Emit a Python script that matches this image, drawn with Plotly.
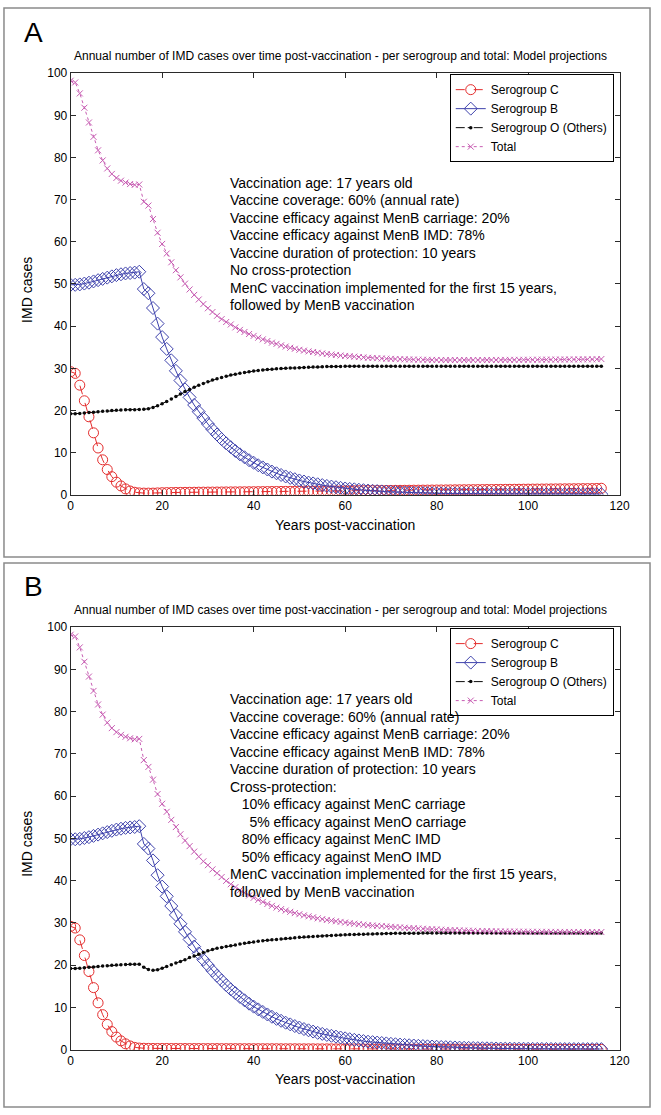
import plotly.graph_objects as go

years = list(range(0, 117))

# ---------------- Panel A data ----------------
sero_c_a = [29.2, 28.8, 26.0, 22.3, 18.5, 14.7, 11.1, 8.3, 6.0, 4.3,
            3.0, 2.1, 1.4, 0.9, 0.6, 0.45, 0.4, 0.4, 0.4, 0.45,
            0.5, 0.52, 0.54, 0.56, 0.57, 0.58, 0.6, 0.61, 0.62, 0.63,
            0.64, 0.65, 0.66, 0.67, 0.68, 0.69, 0.7, 0.71, 0.72, 0.73,
            0.74, 0.75, 0.76, 0.77, 0.78, 0.79, 0.8, 0.81, 0.82, 0.83,
            0.84, 0.85, 0.86, 0.87, 0.88, 0.89, 0.9, 0.91, 0.92, 0.93,
            0.94, 0.95, 0.96, 0.97, 0.98, 0.99, 1.0, 1.01, 1.02, 1.03,
            1.04, 1.05, 1.06, 1.07, 1.08, 1.09, 1.1, 1.11, 1.12, 1.13,
            1.14, 1.15, 1.16, 1.17, 1.18, 1.19, 1.2, 1.21, 1.22, 1.23,
            1.24, 1.25, 1.26, 1.27, 1.28, 1.29, 1.3, 1.31, 1.32, 1.33,
            1.34, 1.35, 1.36, 1.37, 1.38, 1.39, 1.4, 1.41, 1.42, 1.43,
            1.44, 1.45, 1.46, 1.47, 1.48, 1.5, 1.55]
sero_b_a = [49.8, 49.8, 49.9, 50.1, 50.3, 50.6, 50.9, 51.2, 51.5, 51.8,
            52.1, 52.3, 52.5, 52.6, 52.7, 52.9, 48.8, 47.8, 44.3, 40.6,
            37.4, 34.6, 31.9, 29.4, 27.1, 25.0, 23.1, 21.3, 19.7, 18.2,
            16.8, 15.5, 14.3, 13.2, 12.2, 11.3, 10.4, 9.6, 8.9, 8.2,
            7.6, 7.0, 6.5, 6.0, 5.5, 5.1, 4.7, 4.35, 4.0, 3.7,
            3.4, 3.15, 2.9, 2.7, 2.5, 2.3, 2.1, 1.95, 1.8, 1.65,
            1.5, 1.4, 1.3, 1.2, 1.1, 1.0, 0.95, 0.88, 0.81, 0.75,
            0.7, 0.65, 0.6, 0.56, 0.52, 0.48, 0.45, 0.42, 0.39, 0.36,
            0.34, 0.32, 0.3, 0.29, 0.28, 0.27, 0.26, 0.25, 0.24, 0.23,
            0.22, 0.22, 0.21, 0.21, 0.2, 0.2, 0.2, 0.19, 0.19, 0.19,
            0.18, 0.18, 0.18, 0.18, 0.17, 0.17, 0.17, 0.17, 0.17, 0.16,
            0.16, 0.16, 0.16, 0.16, 0.15, 0.15, 0.15]
sero_o_a = [19.2, 19.2, 19.3, 19.4, 19.5, 19.6, 19.7, 19.8, 19.9, 20.0,
            20.05, 20.1, 20.15, 20.2, 20.2, 20.25, 20.3, 20.4, 20.7, 21.1,
            21.6, 22.1, 22.7, 23.3, 23.9, 24.5, 25.0, 25.5, 26.0, 26.4,
            26.8, 27.2, 27.5, 27.8, 28.1, 28.4, 28.6, 28.8, 29.0, 29.2,
            29.35, 29.5, 29.6, 29.7, 29.8, 29.9, 29.95, 30.0, 30.05, 30.1,
            30.15, 30.2, 30.25, 30.3, 30.3, 30.35, 30.4, 30.4, 30.45, 30.45,
            30.5, 30.5, 30.5, 30.5, 30.5, 30.5, 30.5, 30.5, 30.5, 30.5,
            30.5, 30.5, 30.5, 30.5, 30.5, 30.5, 30.5, 30.5, 30.5, 30.5,
            30.5, 30.5, 30.5, 30.5, 30.5, 30.5, 30.5, 30.5, 30.5, 30.5,
            30.5, 30.5, 30.5, 30.5, 30.5, 30.5, 30.5, 30.5, 30.5, 30.5,
            30.5, 30.5, 30.5, 30.5, 30.5, 30.5, 30.5, 30.5, 30.5, 30.5,
            30.5, 30.5, 30.5, 30.5, 30.5, 30.5, 30.5]
total_a = [98.2, 97.8, 95.2, 91.8, 88.3, 84.9, 81.7, 79.3, 77.4, 76.1,
           75.15, 74.5, 74.05, 73.7, 73.5, 73.6, 69.5, 68.6, 65.4, 62.15,
           59.5, 57.22, 55.14, 53.26, 51.57, 50.08, 48.7, 47.41, 46.32, 45.23,
           44.24, 43.35, 42.46, 41.67, 40.98, 40.39, 39.7, 39.11, 38.62, 38.13,
           37.69, 37.25, 36.86, 36.47, 36.08, 35.79, 35.45, 35.16, 34.87, 34.63,
           34.39, 34.2, 34.01, 33.87, 33.68, 33.54, 33.4, 33.26, 33.17, 33.03,
           32.94, 32.85, 32.76, 32.67, 32.58, 32.49, 32.45, 32.39, 32.33, 32.28,
           32.24, 32.2, 32.16, 32.13, 32.1, 32.07, 32.05, 32.03, 32.01, 31.99,
           31.98, 31.97, 31.96, 31.96, 31.96, 31.96, 31.96, 31.96, 31.96, 31.96,
           31.96, 31.97, 31.97, 31.98, 31.98, 31.99, 32.0, 32.0, 32.01, 32.02,
           32.02, 32.03, 32.04, 32.05, 32.05, 32.06, 32.07, 32.08, 32.09, 32.09,
           32.1, 32.11, 32.12, 32.13, 32.13, 32.15, 32.2]

# ---------------- Panel B data ----------------
sero_c_b = [29.2, 28.8, 26.0, 22.3, 18.5, 14.7, 11.1, 8.3, 6.0, 4.3,
            3.0, 2.1, 1.4, 0.9, 0.55, 0.4, 0.35, 0.32, 0.3, 0.3,
            0.3, 0.3, 0.29, 0.29, 0.29, 0.28, 0.28, 0.28, 0.28, 0.27,
            0.27, 0.27, 0.27, 0.26, 0.26, 0.26, 0.26, 0.25, 0.25, 0.25,
            0.25, 0.25, 0.24, 0.24, 0.24, 0.24, 0.23, 0.23, 0.23, 0.23,
            0.22, 0.22, 0.22, 0.22, 0.21, 0.21, 0.21, 0.21, 0.2, 0.2,
            0.2, 0.2, 0.19, 0.19, 0.19, 0.19, 0.18, 0.18, 0.18, 0.18,
            0.17, 0.17, 0.17, 0.17, 0.16, 0.16, 0.16, 0.16, 0.15, 0.15,
            0.15, 0.15, 0.14, 0.14, 0.14, 0.14, 0.13, 0.13, 0.13, 0.13,
            0.12, 0.12, 0.12, 0.12, 0.11, 0.11, 0.11, 0.11, 0.1, 0.1,
            0.1, 0.1, 0.1, 0.1, 0.1, 0.1, 0.1, 0.1, 0.1, 0.1,
            0.1, 0.1, 0.1, 0.1, 0.1, 0.1, 0.1]
sero_b_b = [49.8, 49.8, 49.9, 50.1, 50.3, 50.6, 50.9, 51.2, 51.5, 51.8,
            52.1, 52.3, 52.5, 52.6, 52.7, 52.9, 48.7, 47.6, 44.8, 41.3,
            38.6, 36.3, 34.0, 31.9, 29.8, 27.9, 26.1, 24.4, 22.8, 21.3,
            20.0, 18.7, 17.5, 16.4, 15.3, 14.3, 13.4, 12.5, 11.7, 10.9,
            10.2, 9.55, 8.95, 8.35, 7.8, 7.3, 6.85, 6.4, 6.0, 5.6,
            5.25, 4.9, 4.6, 4.3, 4.0, 3.75, 3.5, 3.3, 3.1, 2.9,
            2.7, 2.5, 2.35, 2.2, 2.05, 1.9, 1.8, 1.7, 1.6, 1.5,
            1.4, 1.3, 1.22, 1.14, 1.06, 1.0, 0.93, 0.87, 0.81, 0.76,
            0.71, 0.66, 0.62, 0.58, 0.54, 0.5, 0.47, 0.44, 0.41, 0.38,
            0.36, 0.34, 0.32, 0.3, 0.28, 0.27, 0.26, 0.25, 0.24, 0.23,
            0.22, 0.21, 0.2, 0.2, 0.19, 0.19, 0.18, 0.18, 0.17, 0.17,
            0.17, 0.16, 0.16, 0.16, 0.15, 0.15, 0.15]
sero_o_b = [19.2, 19.2, 19.3, 19.4, 19.5, 19.6, 19.7, 19.8, 19.9, 20.0,
            20.05, 20.1, 20.15, 20.2, 20.2, 20.25, 19.5, 19.0, 18.8, 18.9,
            19.3, 19.7, 20.1, 20.5, 20.9, 21.3, 21.8, 22.2, 22.6, 23.0,
            23.4, 23.7, 24.0, 24.2, 24.4, 24.6, 24.8, 25.0, 25.2, 25.35,
            25.5, 25.65, 25.8, 25.9, 26.0, 26.1, 26.2, 26.3, 26.4, 26.5,
            26.6, 26.68, 26.75, 26.82, 26.88, 26.94, 27.0, 27.05, 27.1, 27.15,
            27.2, 27.24, 27.28, 27.32, 27.35, 27.38, 27.41, 27.44, 27.47, 27.5,
            27.52, 27.54, 27.55, 27.56, 27.57, 27.58, 27.59, 27.6, 27.6, 27.6,
            27.6, 27.6, 27.6, 27.6, 27.6, 27.6, 27.6, 27.6, 27.6, 27.6,
            27.6, 27.6, 27.6, 27.6, 27.6, 27.6, 27.6, 27.6, 27.6, 27.6,
            27.6, 27.6, 27.6, 27.6, 27.6, 27.6, 27.6, 27.6, 27.6, 27.6,
            27.6, 27.6, 27.6, 27.6, 27.6, 27.6, 27.6]
total_b = [98.2, 97.8, 95.2, 91.8, 88.3, 84.9, 81.7, 79.3, 77.4, 76.1,
           75.15, 74.5, 74.05, 73.7, 73.45, 73.55, 68.55, 66.92, 63.9, 60.5,
           58.2, 56.3, 54.39, 52.69, 50.99, 49.48, 48.18, 46.88, 45.68, 44.57,
           43.67, 42.67, 41.77, 40.86, 39.96, 39.16, 38.46, 37.75, 37.15, 36.5,
           35.95, 35.45, 34.99, 34.49, 34.04, 33.64, 33.28, 32.93, 32.63, 32.33,
           32.07, 31.8, 31.57, 31.34, 31.09, 30.9, 30.71, 30.56, 30.4, 30.25,
           30.1, 29.94, 29.82, 29.71, 29.59, 29.47, 29.39, 29.32, 29.25, 29.18,
           29.09, 29.01, 28.94, 28.87, 28.79, 28.74, 28.68, 28.63, 28.56, 28.51,
           28.46, 28.41, 28.36, 28.32, 28.28, 28.24, 28.2, 28.17, 28.14, 28.11,
           28.08, 28.06, 28.04, 28.02, 27.99, 27.98, 27.97, 27.96, 27.94, 27.93,
           27.92, 27.91, 27.9, 27.9, 27.89, 27.89, 27.88, 27.88, 27.87, 27.87,
           27.87, 27.86, 27.86, 27.86, 27.85, 27.85, 27.85]

series_names = ["Serogroup C", "Serogroup B", "Serogroup O (Others)", "Total"]
x_ticks = [0, 20, 40, 60, 80, 100, 120]
y_ticks = [0, 10, 20, 30, 40, 50, 60, 70, 80, 90, 100]

chart_title = "Annual number of IMD cases over time post-vaccination - per serogroup and total: Model projections"
x_title = "Years post-vaccination"
y_title = "IMD cases"
panel_letters = ["A", "B"]

notes_a = ["Vaccination age: 17 years old",
           "Vaccine coverage: 60% (annual rate)",
           "Vaccine efficacy against MenB carriage: 20%",
           "Vaccine efficacy against MenB IMD: 78%",
           "Vaccine duration of protection: 10 years",
           "No cross-protection",
           "MenC vaccination implemented for the first 15 years,",
           "followed by MenB vaccination"]
notes_b = ["Vaccination age: 17 years old",
           "Vaccine coverage: 60% (annual rate)",
           "Vaccine efficacy against MenB carriage: 20%",
           "Vaccine efficacy against MenB IMD: 78%",
           "Vaccine duration of protection: 10 years",
           "Cross-protection:",
           "\u00a0\u00a0\u00a010% efficacy against MenC carriage",
           "\u00a0\u00a0\u00a0\u00a0\u00a05% efficacy against MenO carriage",
           "\u00a0\u00a0\u00a080% efficacy against MenC IMD",
           "\u00a0\u00a0\u00a050% efficacy against MenO IMD",
           "MenC vaccination implemented for the first 15 years,",
           "followed by MenB vaccination"]

# ---------------- Layout geometry (pixels) ----------------
W, H = 661, 1115
PX0, PX1 = 69, 629
PANELS = [dict(top=67, bot=494, box=(1, 557)),
          dict(top=628, bot=1056, box=(563, 1114))]

def fx(px):
    return px / W

def fy(py):
    return 1 - py / H

RED = "rgb(228,45,45)"
BLUE = "rgb(62,66,172)"
BLACK = "rgb(10,10,10)"
PINK = "rgb(199,92,178)"
FONT = "Liberation Sans, Arial, sans-serif"

styles = [
    dict(line=dict(color=RED, width=1, dash="dash"),
         marker=dict(symbol="circle-open", size=10, color=RED, line=dict(width=1))),
    dict(line=dict(color=BLUE, width=1),
         marker=dict(symbol="diamond-open", size=10, color=BLUE, line=dict(width=1))),
    dict(line=dict(color=BLACK, width=1, dash="dashdot"),
         marker=dict(symbol="circle", size=3.5, color=BLACK)),
    dict(line=dict(color=PINK, width=1, dash="dot"),
         marker=dict(symbol="x-thin-open", size=6, color=PINK, line=dict(width=1, color=PINK))),
]

fig = go.Figure()
panel_data = [[sero_c_a, sero_b_a, sero_o_a, total_a],
              [sero_c_b, sero_b_b, sero_o_b, total_b]]

for p, data in enumerate(panel_data):
    xa = "x" if p == 0 else "x2"
    ya = "y" if p == 0 else "y2"
    lg = "legend" if p == 0 else "legend2"
    for s, vals in enumerate(data):
        fig.add_trace(go.Scatter(x=years, y=vals, mode="lines+markers",
                                 name=series_names[s], xaxis=xa, yaxis=ya,
                                 legend=lg, **styles[s]))

axis_common = dict(range=[0, 120], showline=True, mirror="ticks", ticks="inside",
                   ticklen=5, linecolor="#2a2a2a", linewidth=1, tickcolor="#2a2a2a",
                   showgrid=False, zeroline=False,
                   tickfont=dict(family=FONT, size=12, color="black"))
yaxis_common = dict(range=[0, 100], showline=True, mirror="ticks", ticks="inside",
                    ticklen=5, linecolor="#2a2a2a", linewidth=1, tickcolor="#2a2a2a",
                    showgrid=False, zeroline=False, tickvals=y_ticks,
                    tickfont=dict(family=FONT, size=12, color="black"))

legend_common = dict(xanchor="right", yanchor="top", bgcolor="white",
                     bordercolor="black", borderwidth=1,
                     font=dict(family=FONT, size=12), tracegroupgap=0)

fig.update_layout(
    width=W, height=H, autosize=False,
    margin=dict(l=0, r=0, t=0, b=0),
    paper_bgcolor="white", plot_bgcolor="white",
    font=dict(family=FONT, color="black"),
    xaxis=dict(domain=[fx(PX0), fx(PX1)], anchor="y", tickvals=x_ticks, **axis_common),
    yaxis=dict(domain=[fy(PANELS[0]["bot"]), fy(PANELS[0]["top"])], anchor="x", **yaxis_common),
    xaxis2=dict(domain=[fx(PX0), fx(PX1)], anchor="y2", tickvals=x_ticks, **axis_common),
    yaxis2=dict(domain=[fy(PANELS[1]["bot"]), fy(PANELS[1]["top"])], anchor="x2", **yaxis_common),
    legend=dict(x=fx(623), y=fy(68), **legend_common),
    legend2=dict(x=fx(623), y=fy(68 + 561), **legend_common),
)

shapes = []
annotations = []
for p, pan in enumerate(PANELS):
    off = 0 if p == 0 else 561
    b0, b1 = pan["box"]
    shapes.append(dict(type="rect", xref="paper", yref="paper",
                       x0=fx(1), x1=fx(660), y0=fy(b1), y1=fy(b0),
                       line=dict(color="#8a8a8a", width=1.5)))
    annotations.append(dict(text=panel_letters[p], xref="paper", yref="paper",
                            x=fx(19), y=fy(26 + off), xanchor="left", yanchor="middle",
                            showarrow=False, font=dict(family=FONT, size=28)))
    annotations.append(dict(text=chart_title, xref="paper", yref="paper",
                            x=fx(344), y=fy(50 + off), xanchor="center", yanchor="middle",
                            showarrow=False, font=dict(family=FONT, size=12)))
    annotations.append(dict(text=x_title, xref="paper", yref="paper",
                            x=fx(349), y=fy(525 + off), xanchor="center", yanchor="middle",
                            showarrow=False, font=dict(family=FONT, size=14)))
    annotations.append(dict(text=y_title, xref="paper", yref="paper",
                            x=fx(25), y=fy(287 + off), xanchor="center", yanchor="middle",
                            textangle=-90, showarrow=False, font=dict(family=FONT, size=14)))

xr = ["x", "x2"]
yr = ["y", "y2"]
notes = [notes_a, notes_b]
first_line = [74.0, 83.0]
step = [4.15, 4.15]
for p in range(2):
    for i, line in enumerate(notes[p]):
        annotations.append(dict(text=line, xref=xr[p], yref=yr[p], x=34.3,
                                y=first_line[p] - i * step[p], xanchor="left",
                                yanchor="middle", showarrow=False,
                                font=dict(family=FONT, size=14)))

fig.update_layout(shapes=shapes, annotations=annotations)

fig.write_html("out.html", config={"displayModeBar": False},
               post_script="document.body.style.margin='0';")
